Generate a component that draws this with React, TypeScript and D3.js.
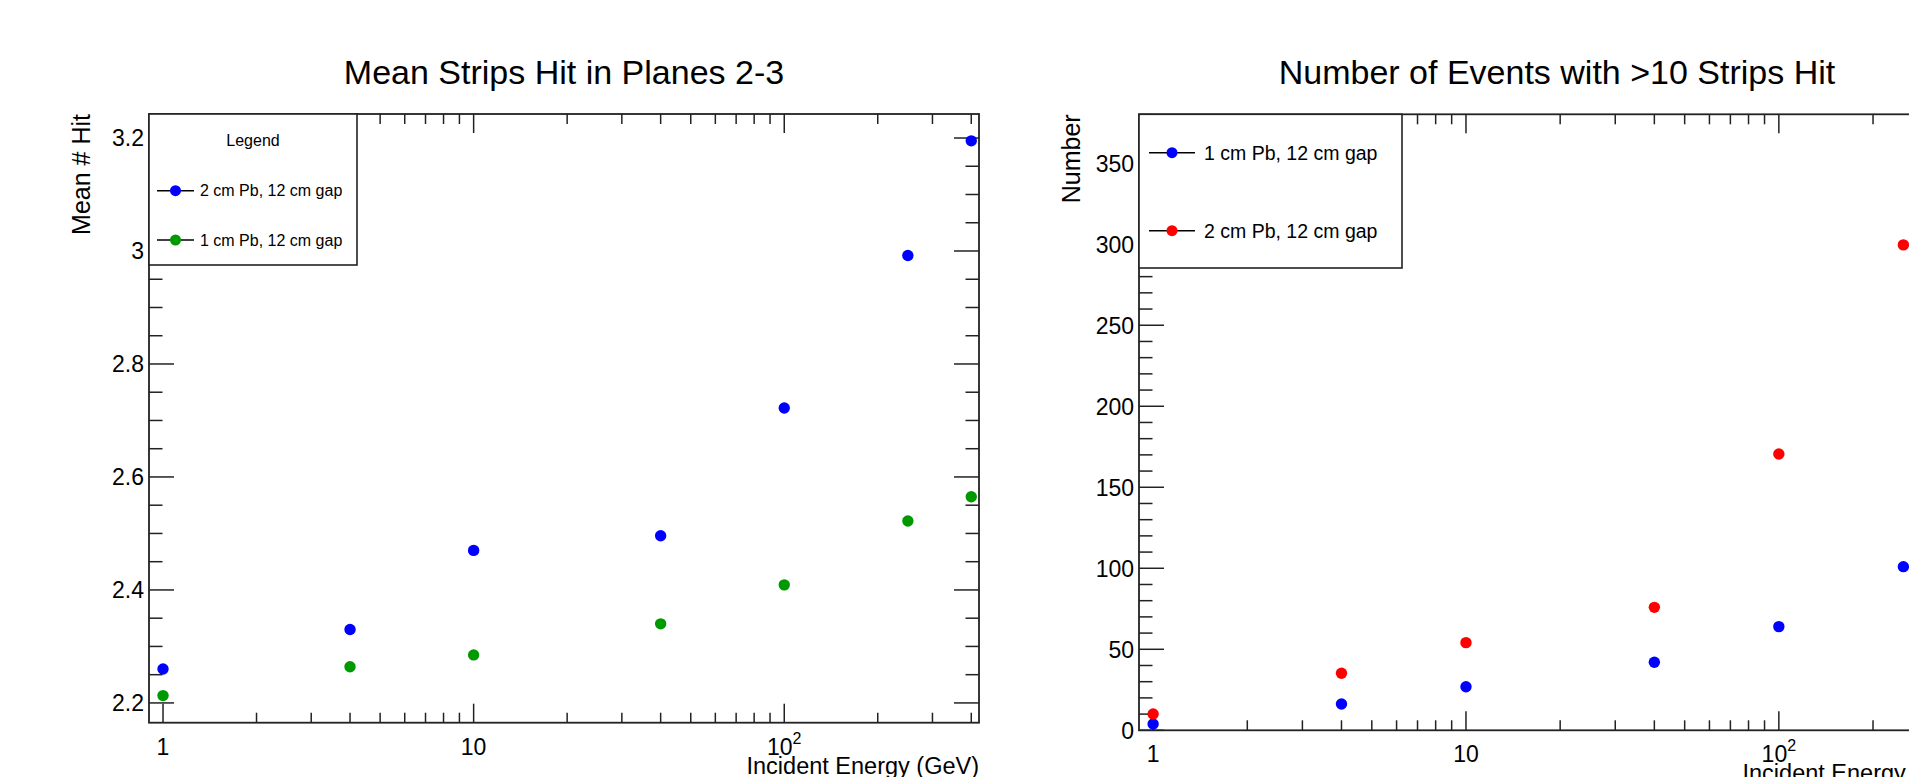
import React from "react";
import * as d3 from "d3";

// ---------- data ----------
const energiesLeft = [1, 4, 10, 40, 100, 250, 400];
const meanHit2cm = [2.26, 2.33, 2.47, 2.496, 2.722, 2.992, 3.195];
const meanHit1cm = [2.213, 2.264, 2.285, 2.34, 2.409, 2.522, 2.565];

const energiesRight = [1, 4, 10, 40, 100, 250];
const events1cm = [3.9, 16.2, 26.9, 42.0, 64.0, 101.0];
const events2cm = [10.1, 35.2, 54.1, 75.9, 170.5, 299.6];

const xMajorTicks = [1, 10, 100];
const xMajorLabels = ["1", "10", "10^2"];
const leftYMajor = [2.2, 2.4, 2.6, 2.8, 3.0, 3.2];
const leftYLabels = ["2.2", "2.4", "2.6", "2.8", "3", "3.2"];
const rightYMajor = [0, 50, 100, 150, 200, 250, 300, 350];
const rightYLabels = ["0", "50", "100", "150", "200", "250", "300", "350"];

const FONT = "'Liberation Sans', Arial, Helvetica, sans-serif";
const AX = "#222";

type Series = { name: string; color: string; xs: number[]; ys: number[] };

type PanelProps = {
  x0: number; x1: number; y0: number; y1: number;
  xDomain: [number, number];
  yDomain: [number, number];
  yMajor: number[]; yLabels: string[]; yMinorStep: number;
  title: string; yTitle: string; xTitle: string;
  series: Series[];
  legend: {
    x0: number; x1: number; y0: number; y1: number;
    header?: string; headerY?: number;
    rows: number[]; lineX0: number; lineX1: number; textX: number; fontSize: number;
  };
};

function Panel(p: PanelProps) {
  const xs = d3.scaleLog().domain(p.xDomain).range([p.x0, p.x1]);
  const ys = d3.scaleLinear().domain(p.yDomain).range([p.y1, p.y0]);

  const xMinor: number[] = [];
  for (let dec = 1; dec <= 1000; dec *= 10) {
    for (let k = 2; k <= 9; k++) {
      const v = k * dec;
      if (v >= p.xDomain[0] && v <= p.xDomain[1]) xMinor.push(v);
    }
  }
  const yMinor: number[] = [];
  const start = Math.ceil(p.yDomain[0] / p.yMinorStep - 1e-9);
  for (let i = start; i * p.yMinorStep <= p.yDomain[1] + 1e-9; i++) {
    const v = +(i * p.yMinorStep).toFixed(6);
    if (!p.yMajor.some((m) => Math.abs(m - v) < 1e-6)) yMinor.push(v);
  }

  const tickLine = { stroke: AX, strokeWidth: 1.5 };
  const L = p.legend;

  return (
    <g>
      <text x={(p.x0 + p.x1) / 2} y={84} fontSize={34} textAnchor="middle" fontFamily={FONT} fill="#000">
        {p.title}
      </text>

      {xMajorTicks.map((v) => (
        <g key={"xm" + v}>
          <line x1={xs(v)} x2={xs(v)} y1={p.y1} y2={p.y1 - 19} {...tickLine} />
          <line x1={xs(v)} x2={xs(v)} y1={p.y0} y2={p.y0 + 19} {...tickLine} />
        </g>
      ))}
      {xMinor.map((v) => (
        <g key={"xn" + v}>
          <line x1={xs(v)} x2={xs(v)} y1={p.y1} y2={p.y1 - 10} {...tickLine} />
          <line x1={xs(v)} x2={xs(v)} y1={p.y0} y2={p.y0 + 10} {...tickLine} />
        </g>
      ))}
      {xMajorTicks.map((v, i) => {
        const lab = xMajorLabels[i];
        const parts = lab.split("^");
        return (
          <text key={"xl" + v} x={xs(v)} y={p.y1 + 32} fontSize={23} textAnchor="middle" fontFamily={FONT} fill="#000">
            {parts[0]}
            {parts[1] ? (
              <tspan dy={-11} fontSize={16}>{parts[1]}</tspan>
            ) : null}
          </text>
        );
      })}

      {p.yMajor.map((v) => (
        <g key={"ym" + v}>
          <line x1={p.x0} x2={p.x0 + 25} y1={ys(v)} y2={ys(v)} {...tickLine} />
          <line x1={p.x1} x2={p.x1 - 25} y1={ys(v)} y2={ys(v)} {...tickLine} />
        </g>
      ))}
      {yMinor.map((v) => (
        <g key={"yn" + v}>
          <line x1={p.x0} x2={p.x0 + 13.5} y1={ys(v)} y2={ys(v)} {...tickLine} />
          <line x1={p.x1} x2={p.x1 - 13.5} y1={ys(v)} y2={ys(v)} {...tickLine} />
        </g>
      ))}
      {p.yMajor.map((v, i) => (
        <text key={"yl" + v} x={p.x0 - 5} y={ys(v) + 8.3} fontSize={23} textAnchor="end" fontFamily={FONT} fill="#000">
          {p.yLabels[i]}
        </text>
      ))}

      <rect x={p.x0} y={p.y0} width={p.x1 - p.x0} height={p.y1 - p.y0} fill="none" stroke={AX} strokeWidth={1.8} />

      <text
        transform={`translate(${p.x0 - 59},${p.y0}) rotate(-90)`}
        fontSize={25} textAnchor="end" fontFamily={FONT} fill="#000"
      >
        {p.yTitle}
      </text>
      <text x={p.x1} y={p.y1 + 51} fontSize={23.5} textAnchor="end" fontFamily={FONT} fill="#000">
        {p.xTitle}
      </text>

      {p.series.map((s) =>
        s.xs.map((xv, i) => (
          <circle key={s.name + i} cx={xs(xv)} cy={ys(s.ys[i])} r={5.7} fill={s.color} />
        ))
      )}

      <rect x={L.x0} y={L.y0} width={L.x1 - L.x0} height={L.y1 - L.y0} fill="#fff" stroke={AX} strokeWidth={1.6} />
      {L.header ? (
        <text x={(L.x0 + L.x1) / 2} y={(L.headerY || 0) + 5.8} fontSize={16} textAnchor="middle" fontFamily={FONT} fill="#000">
          {L.header}
        </text>
      ) : null}
      {p.series.map((s, i) => (
        <g key={"lg" + s.name}>
          <line x1={L.lineX0} x2={L.lineX1} y1={L.rows[i]} y2={L.rows[i]} stroke="#000" strokeWidth={1.5} />
          <circle cx={(L.lineX0 + L.lineX1) / 2} cy={L.rows[i]} r={5.5} fill={s.color} />
          <text x={L.textX} y={L.rows[i] + L.fontSize * 0.36} fontSize={L.fontSize} fontFamily={FONT} fill="#000">
            {s.name}
          </text>
        </g>
      ))}
    </g>
  );
}

export default function App() {
  const xDomain: [number, number] = [0.9013, 423.6];
  return (
    <div style={{ position: "absolute", left: 0, top: 0, width: 1909, height: 777, overflow: "hidden", background: "#fff" }}>
      <svg width={1909} height={777} style={{ display: "block" }}>
        <rect x={0} y={0} width={1909} height={777} fill="#fff" />
        <Panel
          x0={149} x1={979} y0={114} y1={722.7}
          xDomain={xDomain}
          yDomain={[2.165, 3.2425]}
          yMajor={leftYMajor} yLabels={leftYLabels} yMinorStep={0.05}
          title="Mean Strips Hit in Planes 2-3"
          yTitle="Mean # Hit"
          xTitle="Incident Energy (GeV)"
          series={[
            { name: "2 cm Pb, 12 cm gap", color: "#0000ff", xs: energiesLeft, ys: meanHit2cm },
            { name: "1 cm Pb, 12 cm gap", color: "#009a00", xs: energiesLeft, ys: meanHit1cm },
          ]}
          legend={{
            x0: 149, x1: 357, y0: 114, y1: 265,
            header: "Legend", headerY: 140,
            rows: [190.7, 240], lineX0: 157, lineX1: 194, textX: 200, fontSize: 16,
          }}
        />
        <Panel
          x0={1139} x1={1975} y0={114.3} y1={730.3}
          xDomain={xDomain}
          yDomain={[0, 380.2]}
          yMajor={rightYMajor} yLabels={rightYLabels} yMinorStep={10}
          title="Number of Events with >10 Strips Hit"
          yTitle="Number"
          xTitle="Incident Energy (GeV)"
          series={[
            { name: "1 cm Pb, 12 cm gap", color: "#0000ff", xs: energiesRight, ys: events1cm },
            { name: "2 cm Pb, 12 cm gap", color: "#ff0000", xs: energiesRight, ys: events2cm },
          ]}
          legend={{
            x0: 1139, x1: 1402, y0: 114.3, y1: 268,
            rows: [152.7, 230.7], lineX0: 1149, lineX1: 1195, textX: 1204, fontSize: 19.5,
          }}
        />
      </svg>
    </div>
  );
}
